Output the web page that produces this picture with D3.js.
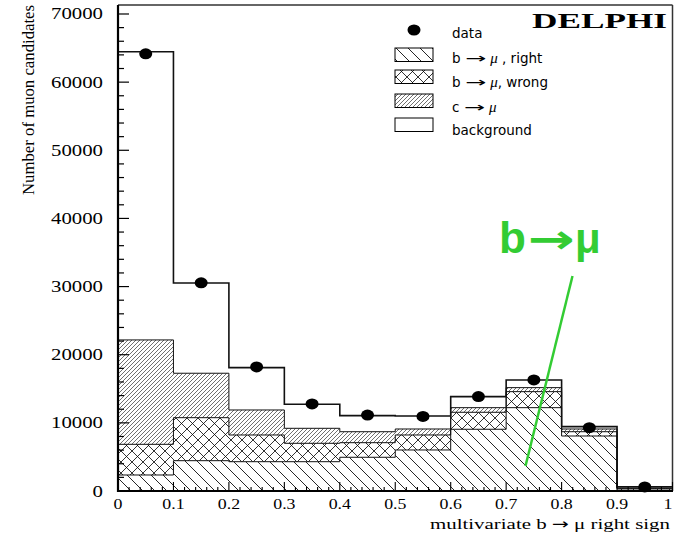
<!DOCTYPE html>
<html><head><meta charset="utf-8">
<script src="https://cdn.jsdelivr.net/npm/d3@7"></script>
<style>body{margin:0;background:#fff}svg{display:block}</style>
</head><body>
<script>
// ---- data ----
const binEdges = [0,0.1,0.2,0.3,0.4,0.5,0.6,0.7,0.8,0.9,1.0];
const bRight   = [2350,4450,4300,4300,4950,6020,9060,12230,8070,300];
const bWrong   = [4500,6310,3920,2700,2140,2200,2490,2350,630,100];
const cMu      = [15320,6520,3670,2200,1610,880,680,590,400,50];
const bkg      = [42280,13250,6210,3530,2360,1910,1620,1130,340,180];
const dataVals = [64150,30550,18200,12770,11150,10950,13850,16300,9300,600];
const yTicks = [0,10000,20000,30000,40000,50000,60000,70000];
const xTicks = [0,0.1,0.2,0.3,0.4,0.5,0.6,0.7,0.8,0.9,1];
const xTickLabels = ["0","0.1","0.2","0.3","0.4","0.5","0.6","0.7","0.8","0.9","1"];

const W=674,H=535;
const svg=d3.select("body").append("svg").attr("width",W).attr("height",H);
const x=d3.scaleLinear().domain([0,1]).range([118,672.5]);
const y=d3.scaleLinear().domain([0,71320]).range([491,5]);
const SERIF="Liberation Serif, Times New Roman, serif";

// patterns
const defs=svg.append("defs");
function pat(id,w,h,d,sw,col){
  const p=defs.append("pattern").attr("id",id).attr("patternUnits","userSpaceOnUse")
    .attr("width",w).attr("height",h);
  p.append("rect").attr("width",w).attr("height",h).attr("fill","#fff");
  p.append("path").attr("d",d).attr("stroke",col||"#000").attr("stroke-width",sw).attr("fill","none");
}
pat("pRight",12,12,"M0,0L12,12M-6,6L6,18M6,-6L18,6",0.85);
pat("pWrong",11,11,"M0,0L11,11M-5.5,5.5L5.5,16.5M5.5,-5.5L16.5,5.5M0,11L11,0M-5.5,5.5L5.5,-5.5M5.5,16.5L16.5,5.5",0.8);
pat("pC",4,4,"M0,4L4,0M-1,1L1,-1M3,5L5,3",0.65,"#222");

// stacking
const keys=["r","w","c","b"];
const rows=bRight.map((v,i)=>({r:v,w:bWrong[i],c:cMu[i],b:bkg[i]}));
const series=d3.stack().keys(keys)(rows);
const fills={r:"url(#pRight)",w:"url(#pWrong)",c:"url(#pC)",b:"#fff"};

function stepPts(s){
  const pts=[];
  s.forEach((d,i)=>{pts.push({x:binEdges[i],y0:d[0],y1:d[1]});pts.push({x:binEdges[i+1],y0:d[0],y1:d[1]});});
  return pts;
}
const area=d3.area().x(d=>x(d.x)).y0(d=>y(d.y0)).y1(d=>y(d.y1));
const line=d3.line().x(d=>x(d.x)).y(d=>y(d.y1));

series.forEach(s=>{
  svg.append("path").attr("d",area(stepPts(s))).attr("fill",fills[s.key]).attr("stroke","none");
});
series.forEach((s,k)=>{
  svg.append("path").attr("d",line(stepPts(s))).attr("fill","none")
    .attr("stroke","#111").attr("stroke-width",k===3?1.6:1);
});

// frame
svg.append("line").attr("x1",118).attr("x2",672.5).attr("y1",5).attr("y2",5).attr("stroke","#333").attr("stroke-width",1.5);
svg.append("line").attr("x1",672.5).attr("x2",672.5).attr("y1",5).attr("y2",491).attr("stroke","#333").attr("stroke-width",1.5);
svg.append("line").attr("x1",118).attr("x2",118).attr("y1",5).attr("y2",492).attr("stroke","#000").attr("stroke-width",2.2);
svg.append("line").attr("x1",117).attr("x2",673).attr("y1",491).attr("y2",491).attr("stroke","#000").attr("stroke-width",2.2);

// y ticks
const yAx=svg.append("g");
d3.range(0,71320,2000).forEach(v=>{
  const major=v%10000===0;
  yAx.append("line").attr("x1",118).attr("x2",118+(major?11:6)).attr("y1",y(v)).attr("y2",y(v))
    .attr("stroke","#000").attr("stroke-width",1.2);
});
yTicks.forEach(v=>{
  yAx.append("text").attr("transform",`translate(103,${y(v)+5.5}) scale(1.3,1)`)
    .attr("text-anchor","end").attr("font-family",SERIF)
    .attr("font-size",16).text(v);
});
// x ticks
const xAx=svg.append("g");
d3.range(0,51).forEach(i=>{
  const v=i/50, major=i%5===0;
  xAx.append("line").attr("x1",x(v)).attr("x2",x(v)).attr("y1",491).attr("y2",491-(major?9:4))
    .attr("stroke","#000").attr("stroke-width",1.1);
});
xTicks.forEach((v,i)=>{
  const px=Math.min(x(v),668);
  xAx.append("text").attr("transform",`translate(${px},508.5) scale(1.15,1)`)
    .attr("text-anchor","middle").attr("font-family",SERIF)
    .attr("font-size",15.5).text(xTickLabels[i]);
});
// axis titles
const xt=svg.append("text").attr("x",670).attr("y",529).attr("text-anchor","end")
  .attr("font-family",SERIF).attr("font-size",15.5)
  .attr("textLength",240).attr("lengthAdjust","spacingAndGlyphs");
xt.append("tspan").text("multivariate b ");
xt.append("tspan").attr("font-family","DejaVu Sans, sans-serif").attr("font-size",15).text("\u2192");
xt.append("tspan").text(" \u03bc right sign");
svg.append("text").attr("transform","translate(34,100) rotate(-90)").attr("text-anchor","middle")
  .attr("font-family",SERIF).attr("font-size",16.5)
  .attr("textLength",190).attr("lengthAdjust","spacingAndGlyphs")
  .text("Number of muon candidates");

// data points
svg.append("g").selectAll("ellipse").data(dataVals).join("ellipse")
  .attr("cx",(d,i)=>x((binEdges[i]+binEdges[i+1])/2)).attr("cy",d=>y(d))
  .attr("rx",6.5).attr("ry",5.5).attr("fill","#000");

// legend
const lg=svg.append("g").attr("font-family","DejaVu Sans, sans-serif").attr("font-size",13.5);
lg.append("ellipse").attr("cx",414).attr("cy",30).attr("rx",6.5).attr("ry",5.5).attr("fill","#000");
const sw=[{y:48,f:"url(#pRight)"},{y:70,f:"url(#pWrong)"},{y:94,f:"url(#pC)"},{y:118,f:"#fff"}];
sw.forEach(s=>lg.append("rect").attr("x",395).attr("y",s.y).attr("width",38).attr("height",13.5)
  .attr("fill",s.f).attr("stroke","#000").attr("stroke-width",1));
const labs=[{y:37.5,t:["data"]},{y:62.5,t:["b ","\u2192"," ","\u03bc"," , right"]},{y:87,t:["b ","\u2192"," ","\u03bc",", wrong"]},
  {y:111.5,t:["c ","\u2192"," ","\u03bc"]},{y:135,t:["background"]}];
labs.forEach(l=>{
  const t=lg.append("text").attr("x",452).attr("y",l.y);
  l.t.forEach(s=>{
    const ts=t.append("tspan").text(s);
    if(s==="\u03bc") ts.attr("font-style","italic").attr("font-family",SERIF).attr("font-size",15);
    if(s==="\u2192") ts.attr("textLength",21).attr("lengthAdjust","spacingAndGlyphs");
  });
});
svg.append("text").attr("x",667).attr("y",28).attr("text-anchor","end")
  .attr("font-family",SERIF).attr("font-weight","bold")
  .attr("font-size",20).attr("textLength",135).attr("lengthAdjust","spacingAndGlyphs").text("DELPHI");

// green annotation
const g=svg.append("g").attr("fill","#33cc33").attr("font-weight","bold");
g.append("text").attr("x",499).attr("y",253).attr("font-family","Liberation Sans, Arial, sans-serif")
  .attr("font-size",44).text("b");
g.append("text").attr("x",528).attr("y",253).attr("font-family","DejaVu Sans, sans-serif")
  .attr("font-size",40).attr("textLength",47).attr("lengthAdjust","spacingAndGlyphs").text("\u2192");
g.append("text").attr("x",575).attr("y",253).attr("font-family","Liberation Sans, Arial, sans-serif")
  .attr("font-size",42).text("\u03bc");
svg.append("line").attr("x1",572.5).attr("y1",276).attr("x2",525.5).attr("y2",466)
  .attr("stroke","#33cc33").attr("stroke-width",2.5);
</script>
</body></html>
